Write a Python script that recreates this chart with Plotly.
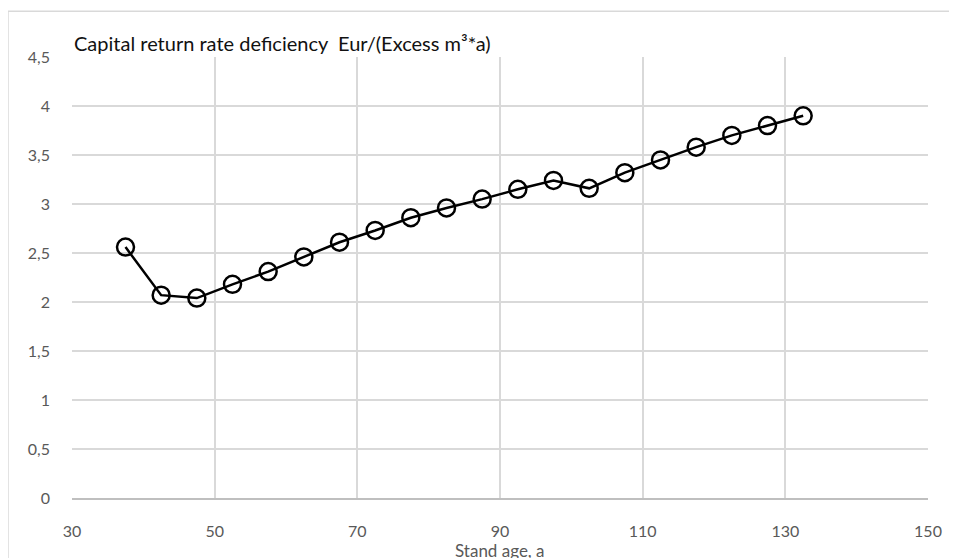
import plotly.graph_objects as go

stand_age = [37.5, 42.5, 47.5, 52.5, 57.5, 62.5, 67.5, 72.5, 77.5, 82.5,
             87.5, 92.5, 97.5, 102.5, 107.5, 112.5, 117.5, 122.5, 127.5, 132.5]
deficiency = [2.56, 2.07, 2.04, 2.18, 2.31, 2.46, 2.61, 2.73, 2.86, 2.96,
              3.05, 3.15, 3.24, 3.16, 3.32, 3.45, 3.58, 3.70, 3.80, 3.90]

x_ticks = [30, 50, 70, 90, 110, 130, 150]
y_ticks = [0, 0.5, 1, 1.5, 2, 2.5, 3, 3.5, 4, 4.5]
y_labels = ["0", "0,5", "1", "1,5", "2", "2,5", "3", "3,5", "4", "4,5"]

title_text = "Capital return rate deficiency  Eur/(Excess m³*a)"
x_title = "Stand age, a"

FONT = "Lato"

fig = go.Figure()
fig.add_trace(go.Scatter(
    x=stand_age, y=deficiency, mode="lines+markers",
    line=dict(color="black", width=2.5),
    marker=dict(symbol="circle-open", size=17, color="black", line=dict(width=2.5)),
    showlegend=False, cliponaxis=False,
))

fig.update_layout(
    width=949, height=550,
    margin=dict(l=64, r=29, t=49, b=60),
    paper_bgcolor="white", plot_bgcolor="white",
    font=dict(family=FONT, color="#595959", size=16),
    xaxis=dict(range=[30, 150], tickvals=x_ticks, showgrid=True, gridcolor="#d9d9d9",
               gridwidth=1.5, zeroline=False, showline=True, linecolor="#bfbfbf", linewidth=1.5,
               ticks="", ticklabelstandoff=18, tickfont=dict(size=16, color="#595959")),
    yaxis=dict(range=[0, 4.5], tickvals=y_ticks, ticktext=y_labels, showgrid=True,
               gridcolor="#d9d9d9", gridwidth=1.5, zeroline=False, showline=False,
               ticks="", ticklabelstandoff=21, tickfont=dict(size=16, color="#595959")),
    annotations=[
        dict(text=title_text, xref="paper", yref="paper", x=0, y=1, xanchor="left",
             yanchor="bottom", yshift=0, showarrow=False,
             font=dict(family=FONT, size=20, color="#111111")),
        dict(text=x_title, xref="paper", yref="paper", x=0.5, y=0, xanchor="center",
             yanchor="top", yshift=-40, showarrow=False,
             font=dict(family=FONT, size=17, color="#595959")),
    ],
    shapes=[dict(type="rect", xref="paper", yref="paper", x0=-0.0748, x1=1.2,
                 y0=-0.3, y1=1.104, line=dict(color="#d9d9d9", width=1.5),
                 fillcolor="rgba(0,0,0,0)", layer="below")],
)

fig.write_html("out.html")
